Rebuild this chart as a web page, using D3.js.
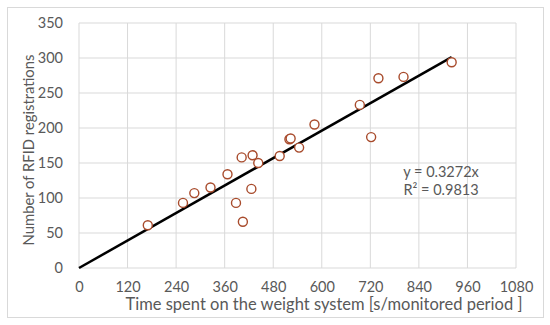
<!DOCTYPE html>
<html>
<head>
<meta charset="utf-8">
<script src="https://d3js.org/d3.v7.min.js"></script>
<style>
  body { margin: 0; background: #fff; }
  svg { display: block; font-family: Lato, "Open Sans", sans-serif; }
</style>
</head>
<body>
<script>
// time spent on weight system (s) and number of RFID registrations
var timeSpent = [170, 257, 285, 325, 367, 388, 405, 426, 402, 429, 443, 496, 520, 523, 544, 582, 694, 722, 740, 802, 921];
var rfidCount = [61, 93, 107, 115, 134, 93, 66, 113, 158, 161, 150, 160, 184, 185, 172, 205, 233, 187, 271, 273, 294];
var xTicks = [0, 120, 240, 360, 480, 600, 720, 840, 960, 1080];
var yTicks = [0, 50, 100, 150, 200, 250, 300, 350];
var slope = 0.3272;
var eqText = ["y = 0.3272x", "R² = 0.9813"];

var W = 550, H = 325;
var margin = { top: 23, right: 34, bottom: 57, left: 79 };
var width = 516 - margin.left, height = 268 - margin.top;

var svg = d3.select("body").append("svg")
    .attr("width", W)
    .attr("height", H);

// chart frame
svg.append("rect")
    .attr("x", 7.5).attr("y", 7.5)
    .attr("width", 536).attr("height", 310)
    .attr("fill", "#fff")
    .attr("stroke", "#d9d9d9");

var g = svg.append("g")
    .attr("transform", "translate(" + margin.left + "," + margin.top + ")");

var x = d3.scaleLinear().domain([0, 1080]).range([0, width]);
var y = d3.scaleLinear().domain([0, 350]).range([height, 0]);

// grid
g.selectAll(".vgrid").data(xTicks).enter().append("line")
    .attr("x1", d => x(d)).attr("x2", d => x(d))
    .attr("y1", 0).attr("y2", height)
    .attr("stroke", "#d9d9d9").attr("stroke-width", 1);
g.selectAll(".hgrid").data(yTicks).enter().append("line")
    .attr("x1", 0).attr("x2", width)
    .attr("y1", d => y(d)).attr("y2", d => y(d))
    .attr("stroke", "#d9d9d9").attr("stroke-width", 1);

// axes (labels only)
var xAxis = g.append("g")
    .attr("transform", "translate(0," + height + ")")
    .call(d3.axisBottom(x).tickValues(xTicks).tickFormat(d3.format("d")).tickSize(0).tickPadding(14));
var yAxis = g.append("g")
    .call(d3.axisLeft(y).tickValues(yTicks).tickSize(0).tickPadding(16));
[xAxis, yAxis].forEach(function (a) {
    a.select(".domain").remove();
    a.selectAll("text")
        .attr("fill", "#595959")
        .style("font-family", "Lato, 'Open Sans', sans-serif")
        .style("font-size", "14.5px");
});

// trendline
var xMax = d3.max(timeSpent);
g.append("line")
    .attr("x1", x(0)).attr("y1", y(0))
    .attr("x2", x(xMax)).attr("y2", y(slope * xMax))
    .attr("stroke", "#000").attr("stroke-width", 2.5);

// points
g.selectAll("circle")
    .data(timeSpent)
    .enter()
    .append("circle")
    .attr("cx", d => x(d))
    .attr("cy", (d, i) => y(rfidCount[i]))
    .attr("r", 4.5)
    .attr("fill", "#fff")
    .attr("stroke", "#a84b2c")
    .attr("stroke-width", 1.4);

// equation
g.selectAll(".eq").data(eqText).enter().append("text")
    .attr("x", 441 - margin.left)
    .attr("y", (d, i) => 177 - margin.top + i * 18)
    .attr("text-anchor", "middle")
    .attr("fill", "#595959")
    .style("font-size", "14.5px")
    .text(d => d);

// axis titles
svg.append("text")
    .attr("x", 324).attr("y", 310)
    .attr("text-anchor", "middle")
    .attr("fill", "#595959")
    .style("font-size", "16.5px")
    .text("Time spent on the weight system [s/monitored period ]");

svg.append("text")
    .attr("transform", "translate(34,150) rotate(-90)")
    .attr("text-anchor", "middle")
    .attr("fill", "#595959")
    .style("font-size", "14.8px")
    .text("Number of RFID registrations");
</script>
</body>
</html>
